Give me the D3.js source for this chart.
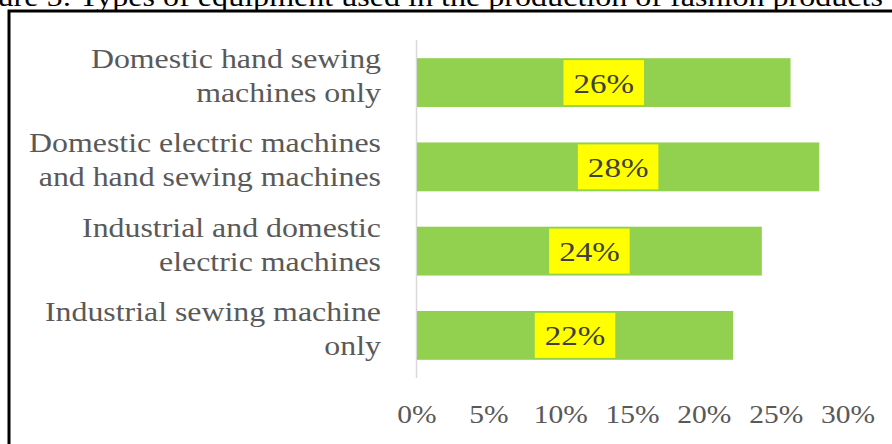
<!DOCTYPE html>
<html><head><meta charset="utf-8">
<script src="https://cdn.jsdelivr.net/npm/d3@7"></script>
<style>html,body{margin:0;padding:0;background:#fff;overflow:hidden}</style>
</head><body>
<svg id="c" width="892" height="444"></svg>
<script>
const categories = [
  ["Domestic hand sewing", "machines only"],
  ["Domestic electric machines", "and hand sewing machines"],
  ["Industrial and domestic", "electric machines"],
  ["Industrial sewing machine", "only"]
];
const values = [26, 28, 24, 22];
const ticks = [0, 5, 10, 15, 20, 25, 30];
const title = "Figure 5: Types of equipment used in the production of fashion products";

const svg = d3.select("#c");
const font = "'Liberation Serif','Times New Roman',serif";
const sx = 1.18;

function stext(g, x, y, str, size, fill, anchor) {
  const gg = g.append("g").attr("transform", `translate(${x},${y}) scale(${sx},1)`);
  const t = gg.append("text").attr("x", 0).attr("y", 0)
    .attr("font-family", font).attr("font-size", size)
    .attr("fill", fill).attr("text-anchor", anchor).text(str);
  return {g: gg, t};
}

// title (partially clipped at top, as in the reference)
stext(svg, 883, 6, title, 27.2, "#000", "end");

// frame
svg.append("path").attr("d", "M9,444 V11 H892").attr("fill", "none")
  .attr("stroke", "#000").attr("stroke-width", 3);

const x = d3.scaleLinear().domain([0, 30]).range([417, 848]);
const y = d3.scaleBand().domain(d3.range(values.length)).range([40.5, 377.5]).paddingInner(0.42).paddingOuter(0.21);

// axis line
svg.append("line").attr("x1", 416.5).attr("x2", 416.5).attr("y1", 40).attr("y2", 378)
  .attr("stroke", "#d9d9d9").attr("stroke-width", 1.5);

// bars
svg.selectAll("rect.bar").data(values).join("rect").attr("class", "bar")
  .attr("x", x(0)).attr("y", (d, i) => y(i))
  .attr("width", d => x(d) - x(0)).attr("height", y.bandwidth())
  .attr("fill", "#92D050");

// value labels with yellow boxes
values.forEach((v, i) => {
  const cx = (x(0) + x(v)) / 2, cy = y(i) + y.bandwidth() / 2;
  const o = stext(svg, cx, cy + 10, v + "%", 28, "#404040", "middle");
  const bb = o.t.node().getBBox();
  const padX = 10 / sx;
  o.g.insert("rect", "text")
    .attr("x", bb.x - padX).attr("width", bb.width + 2 * padX)
    .attr("y", -10 - 22.5).attr("height", 45)
    .attr("fill", "#FFFF00");
});

// category labels
categories.forEach((lines, i) => {
  const cy = y(i) + y.bandwidth() / 2;
  stext(svg, 381, cy - 14.5, lines[0], 27, "#595959", "end");
  stext(svg, 381, cy + 19.5, lines[1], 27, "#595959", "end");
});

// tick labels
ticks.forEach(t => {
  stext(svg, x(t), 423, t + "%", 25, "#595959", "middle");
});
</script>
</body></html>
